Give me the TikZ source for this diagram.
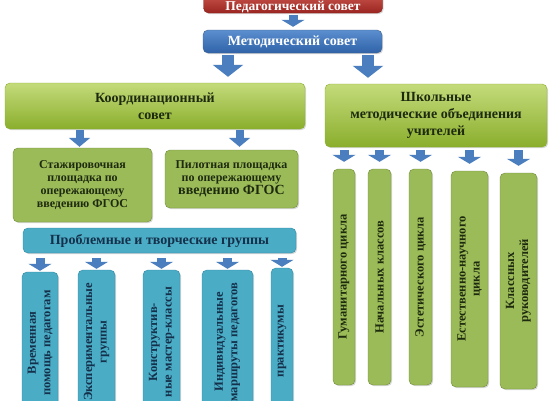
\documentclass[tikz,border=0pt]{standalone}
\usepackage{fontspec}
\setmainfont{Liberation Serif}
\usepackage{tikz}
\usetikzlibrary{arrows.meta, shadows}
\definecolor{pedred}{HTML}{C0392F}
\definecolor{pedreddk}{HTML}{9B2520}
\definecolor{metblue}{HTML}{5B8FCF}
\definecolor{metbluedk}{HTML}{2F62A8}
\definecolor{arrblue}{HTML}{4A7EBE}
\definecolor{limegr}{HTML}{B5D25A}
\definecolor{limegrdk}{HTML}{8AAE2C}
\definecolor{olivegr}{HTML}{9BBB59}
\definecolor{olivedk}{HTML}{6F8C38}
\definecolor{tealbx}{HTML}{4BACC6}
\definecolor{tealdk}{HTML}{2E8AA5}
\definecolor{txtgr}{HTML}{1E2A0E}
\definecolor{txtbl}{HTML}{14304A}
\tikzset{
  >=Latex,
  % frecce a blocco
  blk/.style={line width=10pt, draw=arrblue, -{Triangle[length=9pt,width=26pt]}, shorten <=2pt, shorten >=5pt},
  shd/.style={drop shadow={shadow xshift=1.2pt, shadow yshift=-1.2pt, opacity=.3}}
}
\begin{document}
\begin{tikzpicture}[x=1pt, y=-1pt,
    box/.style={rounded corners=5pt, align=center, inner sep=2pt, font=\bfseries, shd},
    topbox/.style={box, draw=#1!70!black, text=white, minimum width=179pt},
    greenbox/.style={box, draw=limegrdk, top color=limegr!80!white, bottom color=limegrdk, text=txtgr, font=\bfseries\fontsize{14}{17}\selectfont},
    olivebox/.style={box, draw=olivedk, fill=olivegr, text=txtgr, font=\bfseries\fontsize{12}{12.8}\selectfont},
    tealv/.style={box, rotate=90, draw=tealdk, fill=tealbx, text=txtbl, font=\bfseries\fontsize{12.5}{14.5}\selectfont},
    olivev/.style={box, rotate=90, draw=olivedk, fill=olivegr, text=txtgr, font=\bfseries\fontsize{12.5}{14}\selectfont}]
  \useasboundingbox (0,0) rectangle (552,400);
  \clip (0,0) rectangle (552,400);
  \fill[white] (0,0) rectangle (552,400);
  % verticale
  \node[topbox=pedred, top color=pedred!85!white, bottom color=pedreddk, minimum height=20pt,
    text height=14pt, text depth=0pt, font=\bfseries\fontsize{13.5}{15}\selectfont] (ped) at (293,3) {Педагогический совет};
  \node[topbox=metblue, top color=metblue, bottom color=metbluedk, minimum height=23pt,
    font=\bfseries\fontsize{14}{15}\selectfont] (metod) at (292.5,41.5) {Методический совет};
  \node[greenbox, minimum width=300pt, minimum height=46pt] (koord) at (155,106) {Координационный\\совет};
  \node[greenbox, minimum width=222pt, minimum height=63pt] (shkol) at (436,115.5) {Школьные\\методические объединения\\учителей};
  \node[olivebox, minimum width=139pt, minimum height=74pt] (stazh) at (82.5,185) {Стажировочная\\площадка по\\опережающему\\введению ФГОС};
  \node[olivebox, minimum width=133pt, minimum height=58pt] (pilot) at (231.5,179) {Пилотная площадка\\по опережающему\\{\fontsize{14}{15}\selectfont введению ФГОС}};
  \node[box, draw=tealdk, fill=tealbx, text=txtbl, minimum width=273pt, minimum height=25pt,
    font=\bfseries\fontsize{14}{15}\selectfont] (probl) at (159.5,240.5) {Проблемные и творческие группы};
  % gruppi
  \node[tealv, minimum width=142pt, minimum height=36pt] (vrem) at (40,343) {Временная\\помощь педагогам};
  \node[tealv, minimum width=144pt, minimum height=37pt] (eksp) at (96.5,342) {Экспериментальные\\группы};
  \node[tealv, minimum width=144pt, minimum height=37pt] (konstr) at (161.5,342) {Конструктив-\\ные мастер-классы};
  \node[tealv, minimum width=144pt, minimum height=51pt] (indiv) at (227.5,342) {Индивидуальные\\маршруты педагогов};
  \node[tealv, minimum width=146pt, minimum height=22pt] (prakt) at (282,341) {практикумы};
  % MO
  \node[olivev, minimum width=216pt, minimum height=22pt] (gum) at (344,277) {Гуманитарного цикла};
  \node[olivev, minimum width=216pt, minimum height=23pt] (nach) at (379.5,277) {Начальных классов};
  \node[olivev, minimum width=216pt, minimum height=23pt] (est) at (420.5,277) {Эстетического цикла};
  \node[olivev, minimum width=216pt, minimum height=37pt] (estn) at (469.5,279) {Естественно-научного\\цикла};
  \node[olivev, minimum width=216pt, minimum height=37pt] (klass) at (518.5,281) {Классных\\руководителей};
  % frecce
  \draw[blk, line width=9pt, -{Triangle[length=7pt,width=23pt]}, shorten <=2pt, shorten >=3pt] (ped) -- (ped |- metod.north);
  \draw[blk, line width=12pt, -{Triangle[length=12pt,width=30pt]}, shorten >=6pt] ([xshift=-64.5pt]metod.south) -- ([xshift=-64.5pt]metod.south |- koord.north);
  \draw[blk, line width=12pt, -{Triangle[length=12pt,width=30pt]}, shorten >=6pt] ([xshift=75.5pt]metod.south) -- ([xshift=75.5pt]metod.south |- shkol.north);
  \draw[blk, line width=8pt, -{Triangle[length=9pt,width=21pt]}, shorten <=1pt, shorten >=1pt] ([xshift=-3pt]koord.south -| stazh.north) -- ([xshift=-3pt]stazh.north);
  \draw[blk, line width=8pt, -{Triangle[length=9pt,width=21pt]}, shorten <=1pt, shorten >=3pt] ([xshift=8pt]koord.south -| pilot.north) -- ([xshift=8pt]pilot.north);
  \foreach \g in {vrem, eksp, konstr, indiv, prakt}
    \draw[blk, line width=9pt, -{Triangle[length=7pt,width=23pt]}, shorten <=5pt, shorten >=1pt] (probl.south -| \g.center) -- (\g.east);
  \foreach \g in {gum, nach, est, estn, klass}
    \draw[blk, line width=9pt, -{Triangle[length=7pt,width=23pt]}, shorten <=3pt, shorten >=7pt] (shkol.south -| \g.center) -- (\g.east);
\end{tikzpicture}
\end{document}
